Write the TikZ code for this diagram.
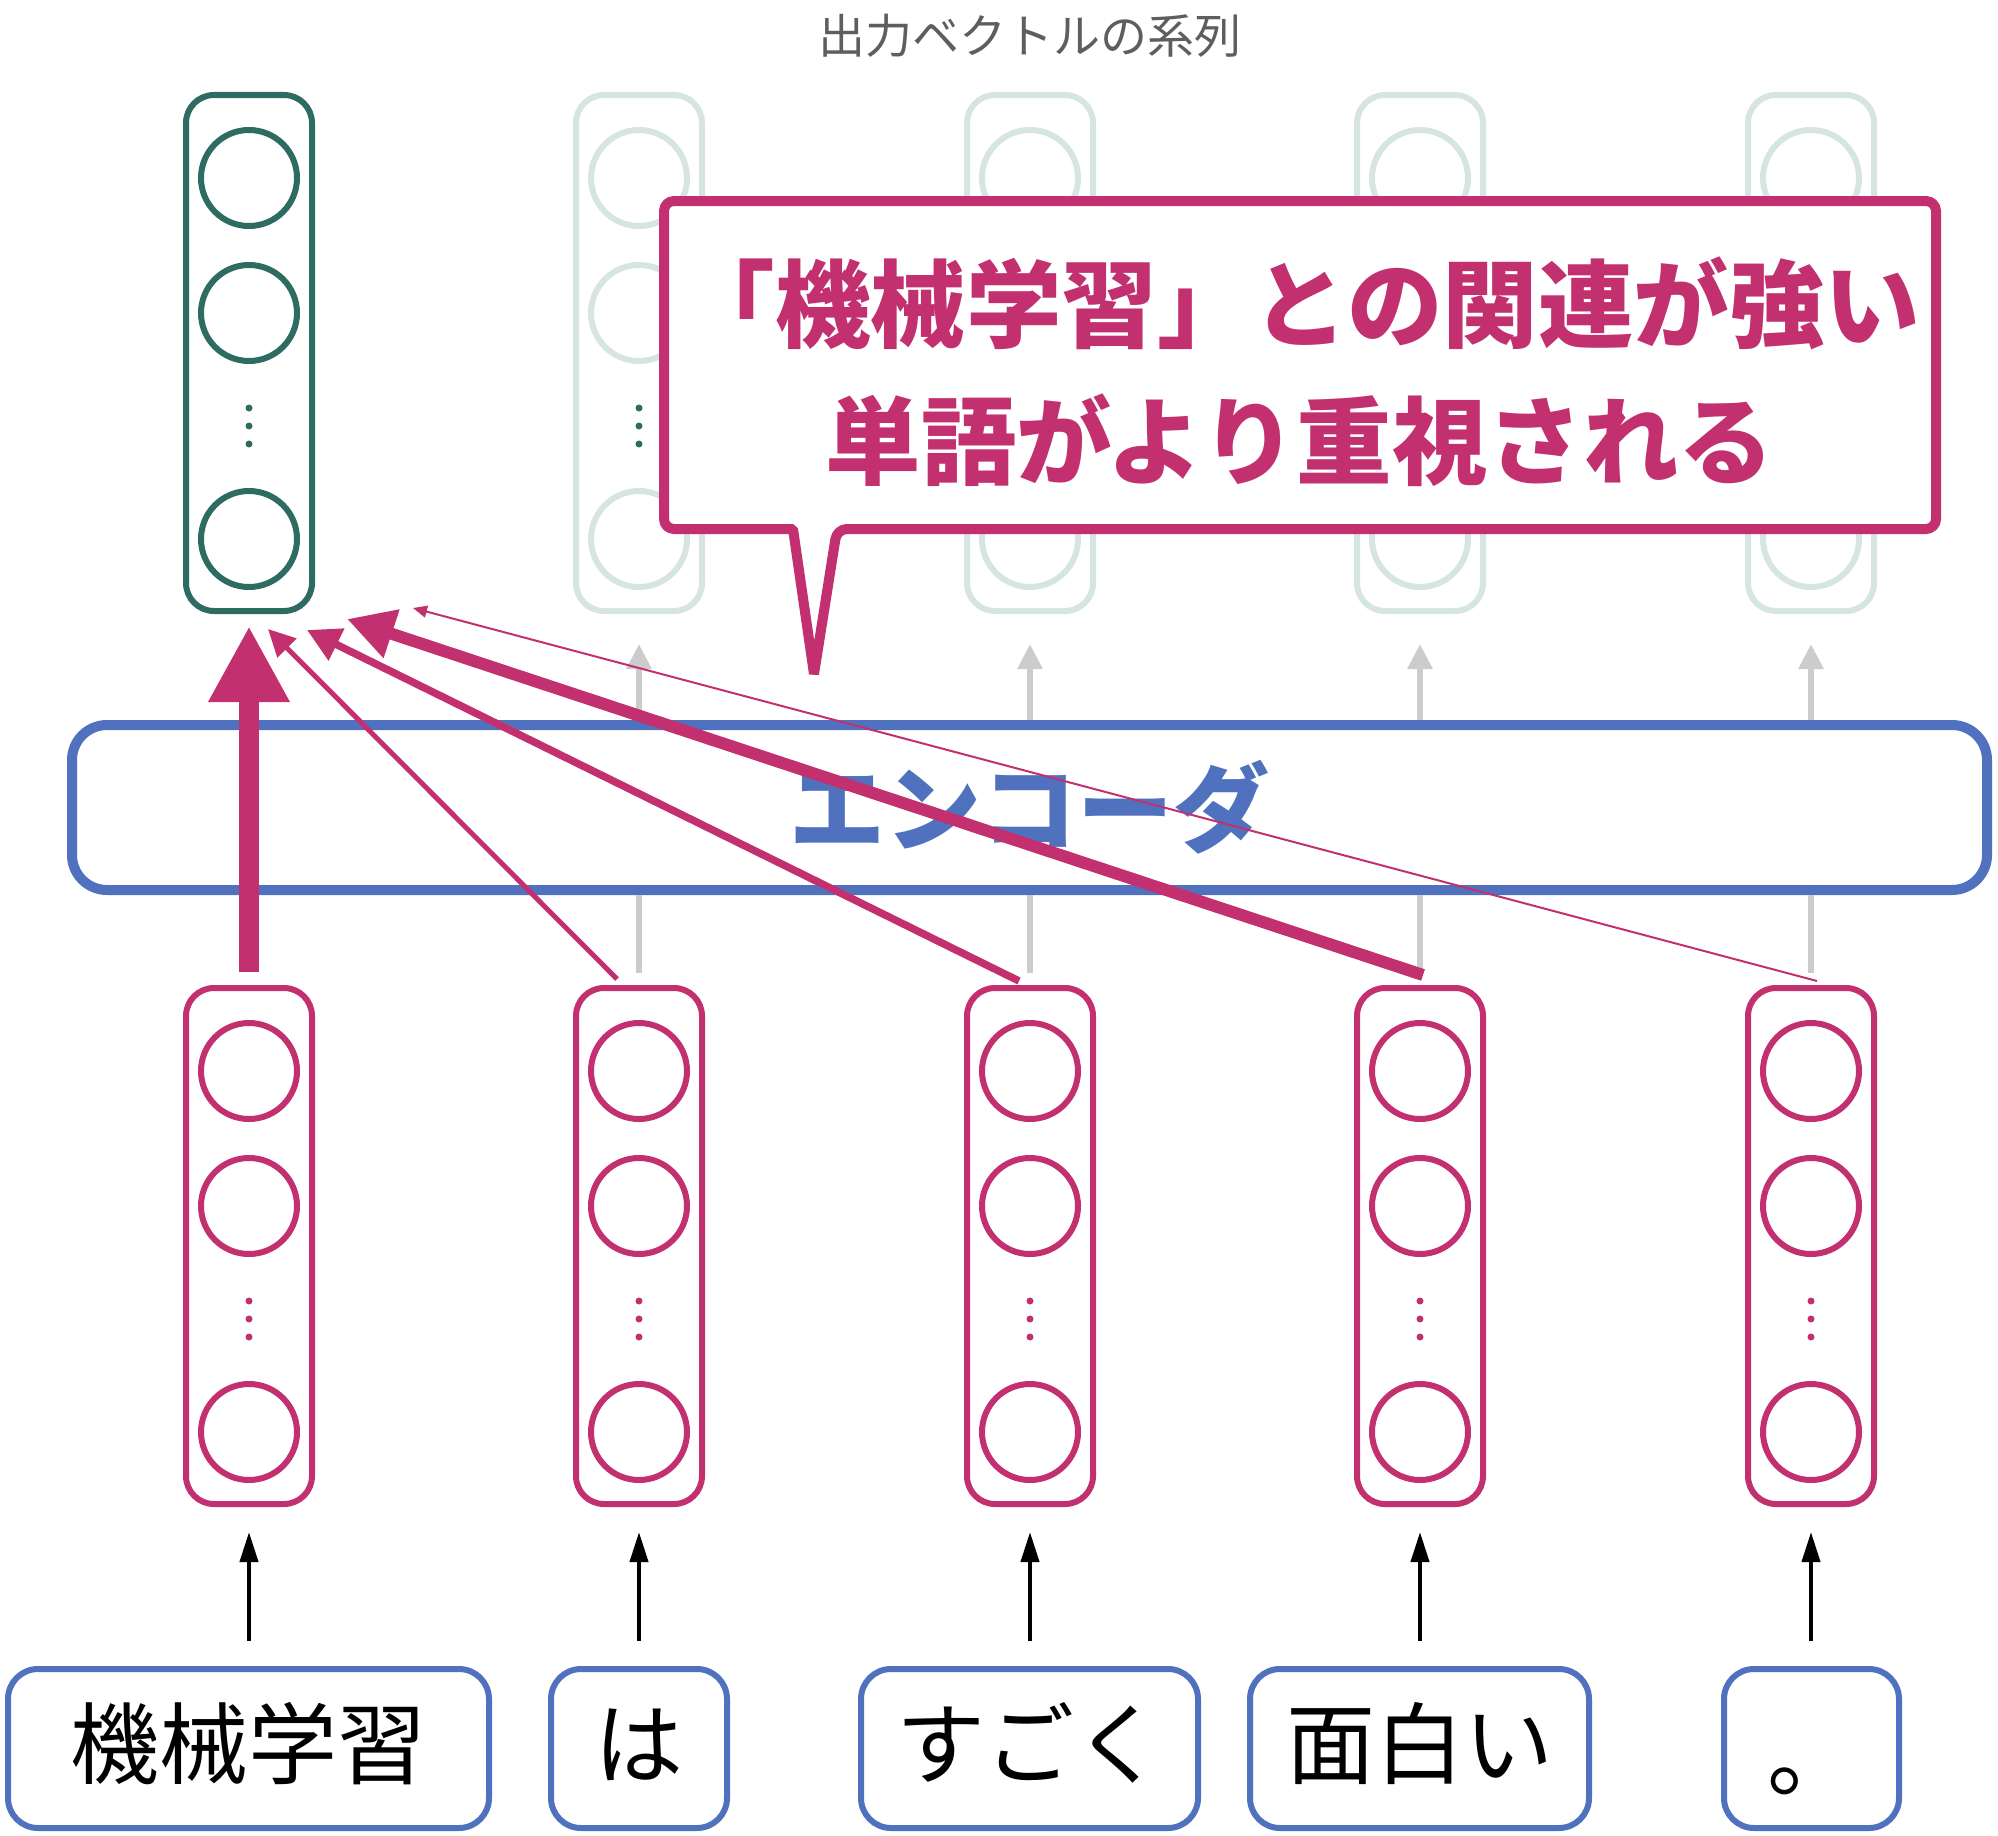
\documentclass[tikz,border=0pt]{standalone}
\usepackage{fontspec}
\setmainfont{Noto Sans CJK JP}
\usetikzlibrary{arrows.meta,calc}
\definecolor{mag}{HTML}{C2306F}
\definecolor{dteal}{HTML}{2E6B63}
\definecolor{lteal}{HTML}{D6E4E2}
\definecolor{eblue}{HTML}{5072BE}
\definecolor{garrow}{HTML}{CCCCCC}
\definecolor{titlegray}{HTML}{5E5E5E}
\newcommand\vstack[6]{%
  \node[vecbox, draw=#4] (#1) at (#2,#3) {};
  \node[unitc, draw=#5] (#1a) at (#2,#3-175) {};
  \node[unitc, draw=#5] (#1b) at (#2,#3-40) {};
  \node[unitc, draw=#5] (#1c) at (#2,#3+186) {};
  \node[vdot, fill=#6] (#1d) at (#2,#3+55) {};
  \node[vdot, fill=#6] (#1e) at (#2,#3+73) {};
  \node[vdot, fill=#6] (#1f) at (#2,#3+91) {};
}
\begin{document}
\begin{tikzpicture}[x=1pt,y=-1pt,
  vecbox/.style={draw, line width=6pt, rounded corners=28pt, minimum width=126pt, minimum height=516pt, inner sep=0pt},
  unitc/.style={circle, draw, line width=6pt, minimum size=96pt, inner sep=0pt},
  vdot/.style={circle, minimum size=7pt, inner sep=0pt},
  wordbox/.style={draw=eblue, line width=6pt, rounded corners=30pt, minimum height=159pt, inner sep=0pt,
    font=\fontsize{89}{100}\selectfont, text height=70pt, text depth=12pt},
  blkarrow/.style={line width=4pt, -{Triangle[length=30pt,width=18pt]}, shorten <=25pt, shorten >=25pt},
  grayline/.style={draw=garrow, line width=6pt},
  grayarrow/.style={grayline, -{Triangle[length=25pt,width=24pt]}},
  att/.style={draw=mag},
]
\useasboundingbox (0,0) rectangle (1998,1836);

% title
\node[font=\fontsize{47}{56}\selectfont, text=titlegray] (title) at (1030,36) {出力ベクトルの系列};

% output vectors
\vstack{o2}{639}{353}{lteal}{lteal}{dteal}
\vstack{o3}{1030}{353}{lteal}{lteal}{dteal}
\vstack{o4}{1420}{353}{lteal}{lteal}{dteal}
\vstack{o5}{1811}{353}{lteal}{lteal}{dteal}
\vstack{o1}{249}{353}{dteal}{dteal}{dteal}

% input vectors
\vstack{v1}{249}{1246}{mag}{mag}{mag}
\vstack{v2}{639}{1246}{mag}{mag}{mag}
\vstack{v3}{1030}{1246}{mag}{mag}{mag}
\vstack{v4}{1420}{1246}{mag}{mag}{mag}
\vstack{v5}{1811}{1246}{mag}{mag}{mag}

% encoder
\node[draw=eblue, line width=10pt, rounded corners=35pt, minimum width=1915pt, minimum height=165pt,
  inner sep=0pt, text=eblue, font=\fontsize{96}{110}\selectfont\bfseries] (enc) at (1029.5,807.5) {エンコーダ};

% gray arrows through encoder
\foreach \i in {2,3,4,5}{
  \draw[grayline, shorten <=12pt] (v\i.north) -- (v\i.north |- enc.south);
  \draw[grayarrow, shorten >=30pt] (o\i.south |- enc.north) -- (o\i.south);
}

% callout
\draw[mag, line width=10pt, fill=white, line join=bevel]
  (814,674) -- (793,529) [rounded corners=10pt] -- (664,529) -- (664,201) -- (1936,201) -- (1936,529) -- (837,529) [sharp corners] -- cycle;
\node[text=mag, align=center, font=\fontsize{95.5}{137}\selectfont\bfseries] (callouttext) at (1300,372)
  {「機械学習」との関連が強い\\単語がより重視される};

% attention arrows
\coordinate (t1) at (249,626);
\coordinate (t2) at (268,629);
\coordinate (t3) at (307,630);
\coordinate (t4) at (347,619);
\coordinate (t5) at (413,608);
\draw[att, line width=20pt, -{Triangle[length=76pt,width=76pt]}] ($(v1.north)+(0,-13)$) -- (t1);
\draw[att, line width=5pt, -{Triangle[length=27pt,width=26pt]}] ($(v2.north)+(-22,-6)$) -- (t2);
\draw[att, line width=7.5pt, -{Triangle[length=33pt,width=34pt]}] ($(v3.north)+(-11,-4)$) -- (t3);
\draw[att, line width=12pt, -{Triangle[length=47pt,width=48pt]}] ($(v4.north)+(3,-10)$) -- (t4);
\draw[att, line width=2pt, -{Triangle[length=14pt,width=12pt]}] ($(v5.north)+(6,-4)$) -- (t5);

% words
\node[wordbox, minimum width=481pt] (w1) at (248.5,1748.5) {機械学習};
\node[wordbox, minimum width=176pt] (w2) at (639,1748.5) {は};
\node[wordbox, minimum width=337pt] (w3) at (1029.5,1748.5) {すごく};
\node[wordbox, minimum width=339pt] (w4) at (1419.5,1748.5) {面白い};
\node[wordbox, minimum width=175pt] (w5) at (1811.5,1748.5) {\raisebox{-12pt}{。}};

% word to vector arrows
\foreach \i in {1,...,5}{
  \draw[blkarrow] (v\i.south |- w\i.north) -- (v\i.south);
}
\end{tikzpicture}
\end{document}
